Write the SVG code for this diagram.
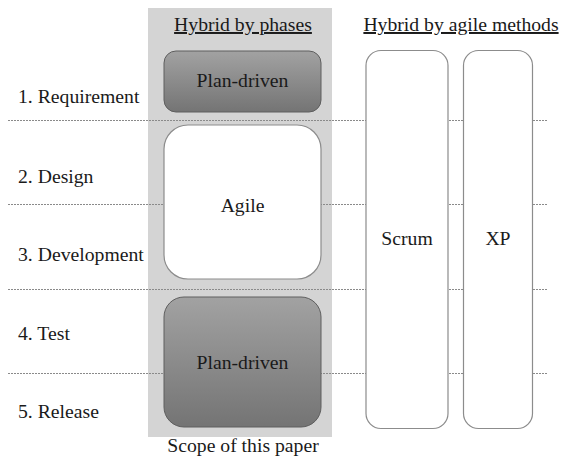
<svg xmlns="http://www.w3.org/2000/svg" width="564" height="459" viewBox="0 0 564 459" font-family="'Liberation Serif', 'Times New Roman', serif">
  <defs>
    <linearGradient id="darkFill" x1="0" y1="0" x2="0" y2="1">
      <stop offset="0" stop-color="#a2a2a2"/>
      <stop offset="1" stop-color="#747474"/>
    </linearGradient>
  </defs>
  <style>
    text { font-family: 'Liberation Serif', 'Times New Roman', serif; font-size: 19.7px; fill: #1a1a1a; }
    .mid { text-anchor: middle; }
    .head { text-decoration: underline; }
    .sep { stroke: #8a8a8a; stroke-width: 1; stroke-dasharray: 2 1; fill: none; }
    .dark { fill: url(#darkFill); stroke: #5e5e5e; stroke-width: 1; }
    .light { fill: #ffffff; stroke: #8c8c8c; stroke-width: 1.2; }
  </style>

  <!-- scope panel -->
  <rect id="scope-panel" x="148" y="8" width="184" height="429" fill="#d4d4d4"/>

  <!-- phase separators -->
  <g id="separators">
    <line class="sep" x1="8" y1="120.5" x2="548" y2="120.5"/>
    <line class="sep" x1="8" y1="204.5" x2="548" y2="204.5"/>
    <line class="sep" x1="8" y1="289.5" x2="548" y2="289.5"/>
    <line class="sep" x1="8" y1="373.5" x2="548" y2="373.5"/>
  </g>

  <!-- phase labels -->
  <g id="phases">
    <text x="18" y="103">1. Requirement</text>
    <text x="18" y="183">2. Design</text>
    <text x="18" y="261">3. Development</text>
    <text x="18" y="340">4. Test</text>
    <text x="18" y="418">5. Release</text>
  </g>

  <!-- column headings -->
  <text id="heading-phases" class="mid head" x="243" y="31">Hybrid by phases</text>
  <text id="heading-methods" class="mid head" x="461" y="31">Hybrid by agile methods</text>

  <g id="plan-driven-top">
    <rect class="dark" x="164" y="51" width="157" height="61" rx="12" ry="12"/>
    <text class="mid" x="242.5" y="87">Plan-driven</text>
  </g>

  <g id="agile">
    <rect class="light" x="164" y="125" width="157" height="154" rx="24" ry="24"/>
    <text class="mid" x="242.5" y="212">Agile</text>
  </g>

  <g id="plan-driven-bottom">
    <rect class="dark" x="164" y="297" width="157" height="130" rx="20" ry="20"/>
    <text class="mid" x="242.5" y="369">Plan-driven</text>
  </g>

  <g id="scrum">
    <rect class="light" x="366" y="50.5" width="82" height="378" rx="15" ry="15"/>
    <text class="mid" x="407" y="245">Scrum</text>
  </g>

  <g id="xp">
    <rect class="light" x="463.5" y="50.5" width="69" height="378" rx="15" ry="15"/>
    <text class="mid" x="498" y="245">XP</text>
  </g>

  <text id="scope-caption" class="mid" x="243" y="452">Scope of this paper</text>
</svg>
